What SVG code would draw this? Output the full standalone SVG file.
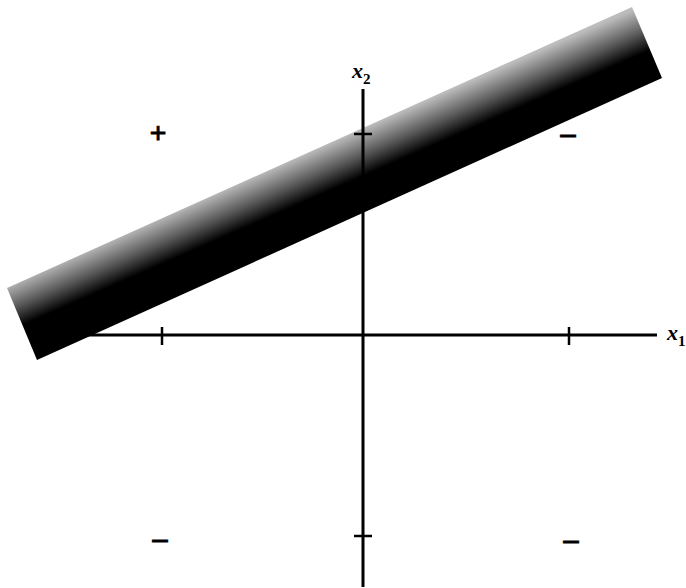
<svg xmlns="http://www.w3.org/2000/svg" width="686" height="588" viewBox="0 0 686 588">
<style>
.ax{stroke:#000;stroke-width:3;fill:none}
.tk{stroke:#000;stroke-width:2.5;fill:none}
.sg{font-family:"Liberation Serif",serif;font-weight:bold;font-size:30px;fill:#000;stroke:#000;stroke-width:0.8;text-anchor:middle}
.lb{font-family:"Liberation Serif",serif;font-weight:bold;font-style:italic;font-size:22px;fill:#000}
.sub{font-family:"Liberation Serif",serif;font-weight:bold;font-size:15px;fill:#000}
</style>
<defs>
<linearGradient id="bandGrad" gradientUnits="userSpaceOnUse" x1="320" y1="147" x2="352" y2="220">
<stop offset="0" stop-color="#bcbcbc"/>
<stop offset="0.3" stop-color="#5a5a5a"/>
<stop offset="0.55" stop-color="#000"/>
<stop offset="1" stop-color="#000"/>
</linearGradient>
</defs>
<g id="band">
<polygon points="7,288 632,7 662,78 37,360" fill="url(#bandGrad)"/>
</g>
<g id="axes">
<line class="ax" x1="60" y1="335" x2="657" y2="335"/>
<line class="ax" x1="363" y1="89" x2="363" y2="587"/>
<line class="tk" x1="162" y1="327" x2="162" y2="345"/>
<line class="tk" x1="569" y1="327" x2="569" y2="345"/>
<line class="tk" x1="354" y1="134" x2="372" y2="134"/>
<line class="tk" x1="354" y1="536" x2="372" y2="536"/>
</g>
<g id="labels">
<text class="lb" x="352" y="78">x</text><text class="sub" x="363" y="84">2</text>
<text class="lb" x="667" y="340">x</text><text class="sub" x="678" y="346">1</text>
<text class="sg" x="158" y="143">+</text>
<text class="sg" x="568" y="143">–</text>
<text class="sg" x="160" y="548">–</text>
<text class="sg" x="571" y="549">–</text>
</g>
</svg>
